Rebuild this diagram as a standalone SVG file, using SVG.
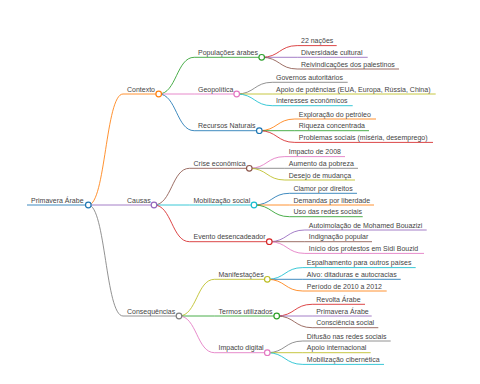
<svg xmlns="http://www.w3.org/2000/svg" width="480" height="384" viewBox="0 0 480 384">
<style>
text{font-family:"Liberation Sans",Arial,sans-serif;font-size:7px;fill:#444}
path,line{fill:none;stroke-width:1;stroke-opacity:0.85}
circle{fill:#fff;stroke-width:1.2}
.blue{stroke:#1f77b4}.orange{stroke:#ff7f0e}.green{stroke:#2ca02c}.red{stroke:#d62728}.purple{stroke:#9467bd}
.brown{stroke:#8c564b}.pink{stroke:#e377c2}.grey{stroke:#7f7f7f}.olive{stroke:#bcbd22}.cyan{stroke:#17becf}
</style>
<rect width="480" height="384" fill="#fff"/>
<g id="connectors">
<path class="orange" d="M88.3,205 C105.6,205 105.6,94 123,94"/>
<path class="purple" d="M88.3,205 L123,205"/>
<path class="grey" d="M88.3,205 C105.6,205 105.6,316 123,316"/>
<path class="green" d="M158.7,94 C176.5,94 176.5,57.3 194.2,57.3"/>
<path class="pink" d="M158.7,94 L194.2,94"/>
<path class="blue" d="M158.7,94 C176.5,94 176.5,130.7 194.2,130.7"/>
<path class="brown" d="M154,205 C171.8,205 171.8,168.3 189.5,168.3"/>
<path class="cyan" d="M154,205 L189.5,205"/>
<path class="red" d="M154,205 C171.8,205 171.8,241.7 189.5,241.7"/>
<path class="olive" d="M179,316 C196.8,316 196.8,279.3 214.5,279.3"/>
<path class="green" d="M179,316 L214.5,316"/>
<path class="pink" d="M179,316 C196.8,316 196.8,352.7 214.5,352.7"/>
<path class="red" d="M261.7,57.3 C279.5,57.3 279.5,45.6 297.2,45.6"/>
<path class="purple" d="M261.7,57.3 L297.2,57.3"/>
<path class="brown" d="M261.7,57.3 C279.5,57.3 279.5,69 297.2,69"/>
<path class="grey" d="M236.7,94 C254.5,94 254.5,82.3 272.2,82.3"/>
<path class="olive" d="M236.7,94 L272.2,94"/>
<path class="cyan" d="M236.7,94 C254.5,94 254.5,105.7 272.2,105.7"/>
<path class="orange" d="M259.3,130.7 C277,130.7 277,119 294.8,119"/>
<path class="green" d="M259.3,130.7 L294.8,130.7"/>
<path class="red" d="M259.3,130.7 C277,130.7 277,142.4 294.8,142.4"/>
<path class="pink" d="M249.3,168.3 C267,168.3 267,156.6 284.8,156.6"/>
<path class="grey" d="M249.3,168.3 L284.8,168.3"/>
<path class="olive" d="M249.3,168.3 C267,168.3 267,180 284.8,180"/>
<path class="blue" d="M254,205 C271.8,205 271.8,193.3 289.5,193.3"/>
<path class="orange" d="M254,205 L289.5,205"/>
<path class="green" d="M254,205 C271.8,205 271.8,216.7 289.5,216.7"/>
<path class="purple" d="M269.3,241.7 C287,241.7 287,230 304.8,230"/>
<path class="brown" d="M269.3,241.7 L304.8,241.7"/>
<path class="pink" d="M269.3,241.7 C287,241.7 287,253.4 304.8,253.4"/>
<path class="cyan" d="M267.3,279.3 C285,279.3 285,267.6 302.8,267.6"/>
<path class="blue" d="M267.3,279.3 L302.8,279.3"/>
<path class="orange" d="M267.3,279.3 C285,279.3 285,291 302.8,291"/>
<path class="red" d="M276.7,316 C294.5,316 294.5,304.3 312.2,304.3"/>
<path class="purple" d="M276.7,316 L312.2,316"/>
<path class="brown" d="M276.7,316 C294.5,316 294.5,327.7 312.2,327.7"/>
<path class="grey" d="M267.3,352.7 C285,352.7 285,341 302.8,341"/>
<path class="olive" d="M267.3,352.7 L302.8,352.7"/>
<path class="cyan" d="M267.3,352.7 C285,352.7 285,364.4 302.8,364.4"/>
</g>
<g id="n-root"><line class="blue" x1="27" y1="205" x2="88.3" y2="205"/><text x="31" y="202.5">Primavera Árabe</text><circle class="blue" cx="88.3" cy="205" r="2.8"/></g>
<g id="n-contexto"><line class="orange" x1="123" y1="94" x2="158.7" y2="94"/><text x="127" y="91.5">Contexto</text><circle class="orange" cx="158.7" cy="94" r="2.8"/></g>
<g id="n-populacoes"><line class="green" x1="194.2" y1="57.3" x2="261.7" y2="57.3"/><text x="198" y="54.8">Populações árabes</text><circle class="green" cx="261.7" cy="57.3" r="2.8"/></g>
<g id="n-22nacoes"><line class="red" x1="297.2" y1="45.6" x2="336.7" y2="45.6"/><text x="301" y="43.1">22 nações</text></g>
<g id="n-diversidade"><line class="purple" x1="297.2" y1="57.3" x2="367.7" y2="57.3"/><text x="301" y="54.8">Diversidade cultural</text></g>
<g id="n-reivindicacoes"><line class="brown" x1="297.2" y1="69" x2="399" y2="69"/><text x="301" y="66.5">Reivindicações dos palestinos</text></g>
<g id="n-geopolitica"><line class="pink" x1="194.2" y1="94" x2="236.7" y2="94"/><text x="198" y="91.5">Geopolítica</text><circle class="pink" cx="236.7" cy="94" r="2.8"/></g>
<g id="n-governos"><line class="grey" x1="272.2" y1="82.3" x2="347.7" y2="82.3"/><text x="276" y="79.8">Governos autoritários</text></g>
<g id="n-apoio"><line class="olive" x1="272.2" y1="94" x2="435.7" y2="94"/><text x="276" y="91.5">Apoio de potências (EUA, Europa, Rússia, China)</text></g>
<g id="n-interesses"><line class="cyan" x1="272.2" y1="105.7" x2="352.7" y2="105.7"/><text x="276" y="103.2">Interesses econômicos</text></g>
<g id="n-recursos"><line class="blue" x1="194.2" y1="130.7" x2="259.3" y2="130.7"/><text x="198" y="128.2">Recursos Naturais</text><circle class="blue" cx="259.3" cy="130.7" r="2.8"/></g>
<g id="n-exploracao"><line class="orange" x1="294.8" y1="119" x2="376" y2="119"/><text x="298.8" y="116.5">Exploração do petróleo</text></g>
<g id="n-riqueza"><line class="green" x1="294.8" y1="130.7" x2="369" y2="130.7"/><text x="298.8" y="128.2">Riqueza concentrada</text></g>
<g id="n-problemas"><line class="red" x1="294.8" y1="142.4" x2="433" y2="142.4"/><text x="298.8" y="139.9">Problemas sociais (miséria, desemprego)</text></g>
<g id="n-causas"><line class="purple" x1="123" y1="205" x2="154" y2="205"/><text x="127" y="202.5">Causas</text><circle class="purple" cx="154" cy="205" r="2.8"/></g>
<g id="n-crise"><line class="brown" x1="189.5" y1="168.3" x2="249.3" y2="168.3"/><text x="193.5" y="165.8">Crise econômica</text><circle class="brown" cx="249.3" cy="168.3" r="2.8"/></g>
<g id="n-impacto2008"><line class="pink" x1="284.8" y1="156.6" x2="345" y2="156.6"/><text x="288.8" y="154.1">Impacto de 2008</text></g>
<g id="n-aumento"><line class="grey" x1="284.8" y1="168.3" x2="358" y2="168.3"/><text x="288.8" y="165.8">Aumento da pobreza</text></g>
<g id="n-desejo"><line class="olive" x1="284.8" y1="180" x2="355" y2="180"/><text x="288.8" y="177.5">Desejo de mudança</text></g>
<g id="n-mobilizacao"><line class="cyan" x1="189.5" y1="205" x2="254" y2="205"/><text x="193.5" y="202.5">Mobilização social</text><circle class="cyan" cx="254" cy="205" r="2.8"/></g>
<g id="n-clamor"><line class="blue" x1="289.5" y1="193.3" x2="357" y2="193.3"/><text x="293.5" y="190.8">Clamor por direitos</text></g>
<g id="n-demandas"><line class="orange" x1="289.5" y1="205" x2="374" y2="205"/><text x="293.5" y="202.5">Demandas por liberdade</text></g>
<g id="n-uso"><line class="green" x1="289.5" y1="216.7" x2="362.7" y2="216.7"/><text x="293.5" y="214.2">Uso das redes sociais</text></g>
<g id="n-evento"><line class="red" x1="189.5" y1="241.7" x2="269.3" y2="241.7"/><text x="193.5" y="239.2">Evento desencadeador</text><circle class="red" cx="269.3" cy="241.7" r="2.8"/></g>
<g id="n-autoimolacao"><line class="purple" x1="304.8" y1="230" x2="426.7" y2="230"/><text x="308.8" y="227.5">Autoimolação de Mohamed Bouazizi</text></g>
<g id="n-indignacao"><line class="brown" x1="304.8" y1="241.7" x2="372" y2="241.7"/><text x="308.8" y="239.2">Indignação popular</text></g>
<g id="n-inicio"><line class="pink" x1="304.8" y1="253.4" x2="424" y2="253.4"/><text x="308.8" y="250.9">Início dos protestos em Sidi Bouzid</text></g>
<g id="n-consequencias"><line class="grey" x1="123" y1="316" x2="179" y2="316"/><text x="127" y="313.5">Consequências</text><circle class="grey" cx="179" cy="316" r="2.8"/></g>
<g id="n-manifestacoes"><line class="olive" x1="214.5" y1="279.3" x2="267.3" y2="279.3"/><text x="218.5" y="276.8">Manifestações</text><circle class="olive" cx="267.3" cy="279.3" r="2.8"/></g>
<g id="n-espalhamento"><line class="cyan" x1="302.8" y1="267.6" x2="415.7" y2="267.6"/><text x="306.8" y="265.1">Espalhamento para outros países</text></g>
<g id="n-alvo"><line class="blue" x1="302.8" y1="279.3" x2="400.7" y2="279.3"/><text x="306.8" y="276.8">Alvo: ditaduras e autocracias</text></g>
<g id="n-periodo"><line class="orange" x1="302.8" y1="291" x2="386.7" y2="291"/><text x="306.8" y="288.5">Período de 2010 a 2012</text></g>
<g id="n-termos"><line class="green" x1="214.5" y1="316" x2="276.7" y2="316"/><text x="218.5" y="313.5">Termos utilizados</text><circle class="green" cx="276.7" cy="316" r="2.8"/></g>
<g id="n-revolta"><line class="red" x1="312.2" y1="304.3" x2="365" y2="304.3"/><text x="316.2" y="301.8">Revolta Árabe</text></g>
<g id="n-primavera"><line class="purple" x1="312.2" y1="316" x2="371.7" y2="316"/><text x="316.2" y="313.5">Primavera Árabe</text></g>
<g id="n-consciencia"><line class="brown" x1="312.2" y1="327.7" x2="378.3" y2="327.7"/><text x="316.2" y="325.2">Consciência social</text></g>
<g id="n-impactodigital"><line class="pink" x1="214.5" y1="352.7" x2="267.3" y2="352.7"/><text x="218.5" y="350.2">Impacto digital</text><circle class="pink" cx="267.3" cy="352.7" r="2.8"/></g>
<g id="n-difusao"><line class="grey" x1="302.8" y1="341" x2="390.7" y2="341"/><text x="306.8" y="338.5">Difusão nas redes sociais</text></g>
<g id="n-apoiointernacional"><line class="olive" x1="302.8" y1="352.7" x2="370.7" y2="352.7"/><text x="306.8" y="350.2">Apoio internacional</text></g>
<g id="n-mobcibernetica"><line class="cyan" x1="302.8" y1="364.4" x2="384" y2="364.4"/><text x="306.8" y="361.9">Mobilização cibernética</text></g>
</svg>
